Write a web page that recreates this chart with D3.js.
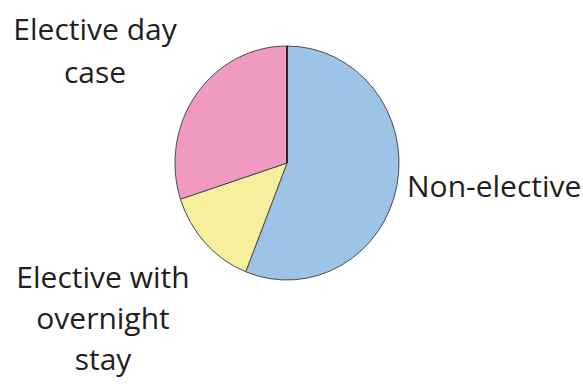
<!DOCTYPE html>
<html>
<head>
<meta charset="utf-8">
<script src="https://cdn.jsdelivr.net/npm/d3@7"></script>
<style>
  html, body { margin: 0; padding: 0; background: #fff; }
  svg { display: block; }
  text { font-family: "Open Sans", "Noto Sans", sans-serif; fill: #231f20; }
</style>
</head>
<body>
<svg id="chart" width="583" height="384"></svg>
<script>
const categories = ["Non-elective", "Elective with overnight stay", "Elective day case"];
const values = [56, 14, 30];
const colors = ["#9dc3e6", "#f6f09e", "#f19ac1"];
const labelLines = [
  ["Non-elective"],
  ["Elective with", "overnight", "stay"],
  ["Elective day", "case"]
];

const svg = d3.select("#chart");
const cx = 287, cy = 163, rx = 112, ry = 117;

const data = categories.map((c, i) => ({ name: c, value: values[i], color: colors[i], lines: labelLines[i] }));
const pie = d3.pie().value(d => d.value).sort(null);
const arc = d3.arc().innerRadius(0).outerRadius(rx);

const g = svg.append("g").attr("transform", `translate(${cx},${cy}) scale(1,${ry / rx})`);
const arcs = pie(data);
g.selectAll("path.slice")
  .data(arcs)
  .enter().append("path")
  .attr("class", "slice")
  .attr("d", arc)
  .attr("fill", d => d.data.color)
  .attr("stroke", "#4a4a4a")
  .attr("stroke-width", 1)
  .attr("vector-effect", "non-scaling-stroke");

// dark radial line at the top (start angle)
g.append("line")
  .attr("x1", 0).attr("y1", 0)
  .attr("x2", 0).attr("y2", -rx)
  .attr("stroke", "#111")
  .attr("stroke-width", 1.5)
  .attr("vector-effect", "non-scaling-stroke");

// labels
const labelPos = [
  { x: 407, y: 197, anchor: "start", dy: 42 },
  { x: 103, y: 288, anchor: "middle", dy: 41 },
  { x: 95, y: 40, anchor: "middle", dy: 43 }
];
data.forEach((d, i) => {
  const p = labelPos[i];
  const t = svg.append("text")
    .attr("x", p.x).attr("y", p.y)
    .attr("text-anchor", p.anchor)
    .attr("font-size", 30);
  d.lines.forEach((ln, j) => {
    t.append("tspan").attr("x", p.x).attr("y", p.y + j * p.dy).text(ln);
  });
});
</script>
</body>
</html>
